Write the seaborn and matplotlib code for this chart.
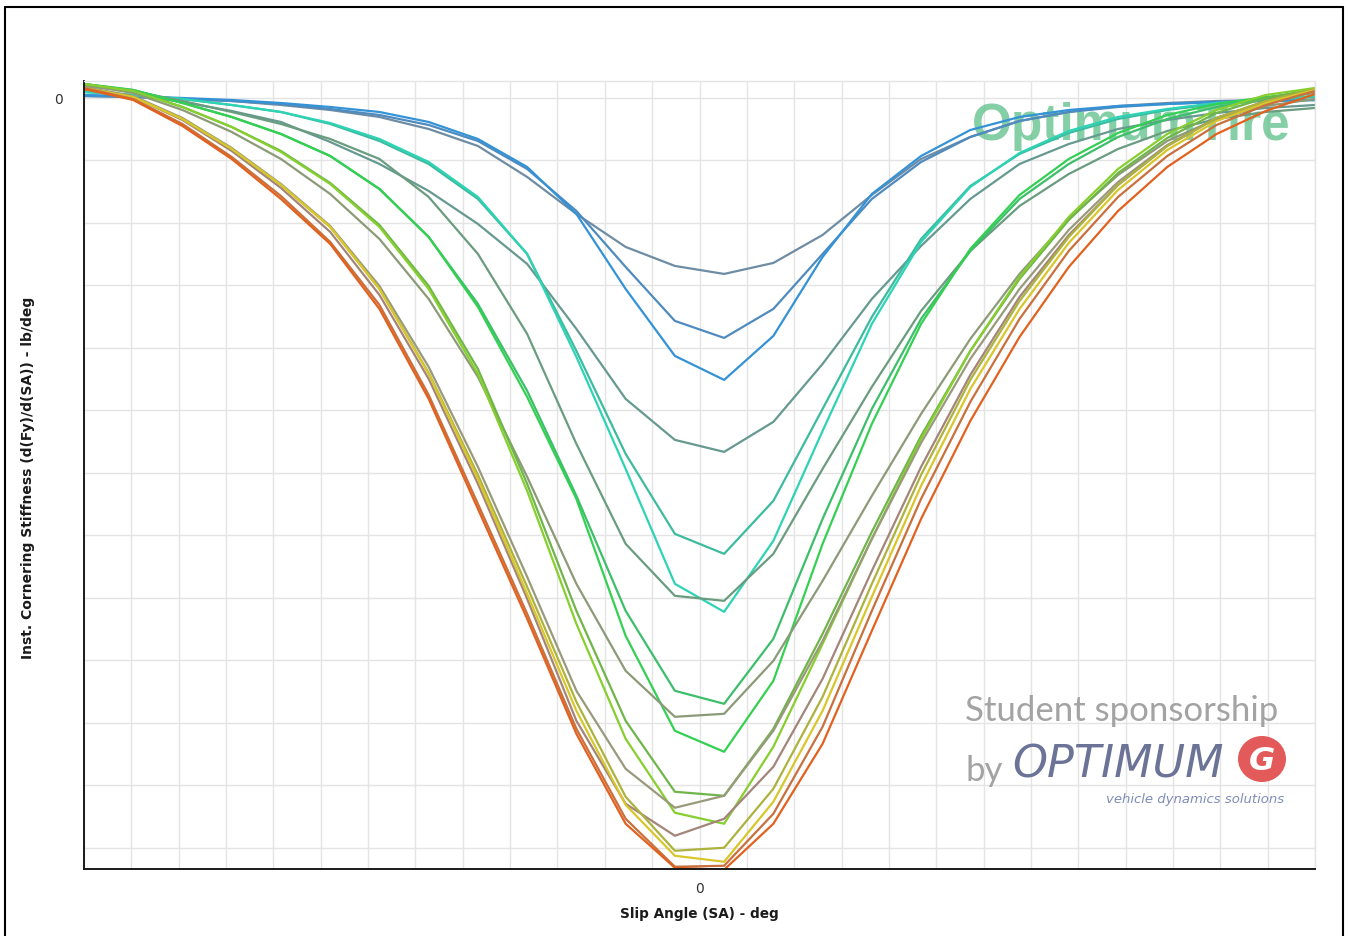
import matplotlib
matplotlib.use("Agg")
import matplotlib.pyplot as plt
from matplotlib.lines import Line2D
from matplotlib.patches import Ellipse
from matplotlib.ticker import MultipleLocator, FuncFormatter
import pandas as pd
import seaborn as sns

# Slip angle sweep (deg)
slip_angle_deg = [-13.0, -11.96, -10.92, -9.88, -8.84, -7.8, -6.76, -5.72, -4.68, -3.64, -2.6, -1.56, -0.52,
                  0.52, 1.56, 2.6, 3.64, 4.68, 5.72, 6.76, 7.8, 8.84, 9.88, 10.92, 11.96, 13.0]

# Instantaneous cornering stiffness (lb/deg), one list per tyre run
cs_01 = [1.6, 0.8, -0.8, -2.4, -5.6, -9.6, -15.2, -24.8, -38.4, -63.2, -92.8, -119.2, -134.4,
         -140.8, -132.0, -109.6, -77.6, -48.8, -31.2, -18.4, -11.2, -6.4, -4.0, -2.4, -1.6, -1.6]
cs_02 = [1.6, 0.8, -0.8, -2.4, -4.8, -8.8, -13.6, -21.6, -34.4, -56.8, -90.4, -135.2, -178.4,
         -192.0, -168.8, -124.8, -80.8, -51.2, -31.2, -18.4, -11.2, -7.2, -4.8, -3.2, -2.4, -1.6]
cs_03 = [2.4, 1.6, 0.0, -1.6, -4.0, -7.2, -11.2, -19.2, -32.8, -55.2, -92.8, -152.8, -206.4,
         -225.6, -190.4, -127.2, -76.8, -46.4, -25.6, -15.2, -9.6, -6.4, -4.8, -3.2, -2.4, -1.6]
cs_04 = [5.6, 2.4, -3.2, -10.4, -19.2, -35.2, -52.8, -74.4, -100.8, -132.8, -184.8, -240.8, -273.6,
         -283.2, -259.2, -212.8, -160.8, -118.4, -80.8, -52.8, -36.8, -24.8, -17.6, -12.0, -8.0, -5.6]
cs_05 = [4.8, 2.4, -0.8, -5.6, -11.2, -20.8, -34.4, -52.8, -80.8, -124.8, -202.4, -284.8, -348.8,
         -364.8, -322.4, -248.8, -175.2, -112.8, -70.4, -44.8, -28.0, -16.8, -9.6, -4.8, -1.6, 0.8]
cs_06 = [4.8, 2.4, -0.8, -5.6, -11.2, -20.0, -32.8, -51.2, -79.2, -124.8, -207.2, -296.8, -388.8,
         -411.2, -354.4, -266.4, -180.8, -115.2, -71.2, -44.0, -26.4, -15.2, -8.8, -4.0, -0.8, 1.6]
cs_07 = [9.6, 5.6, -2.4, -11.2, -20.8, -32.8, -48.8, -79.2, -124.8, -188.8, -276.8, -356.8, -398.4,
         -402.4, -364.8, -296.8, -231.2, -170.4, -122.4, -86.4, -60.8, -40.8, -26.4, -16.8, -11.2, -8.0]
cs_08 = [11.2, 6.4, -4.0, -15.2, -28.8, -46.4, -72.8, -111.2, -164.8, -234.4, -318.4, -410.4, -474.4,
         -484.8, -432.8, -336.8, -248.8, -176.8, -122.4, -80.8, -52.8, -31.2, -16.8, -7.2, -0.8, 4.0]
cs_09 = [11.2, 6.4, -4.0, -15.2, -28.8, -46.4, -72.8, -111.2, -167.2, -239.2, -320.8, -430.4, -506.4,
         -523.2, -466.4, -356.8, -260.8, -180.8, -120.8, -77.6, -48.8, -28.0, -13.6, -4.8, 0.8, 4.8]
cs_10 = [10.4, 4.0, -9.6, -27.2, -48.8, -76.8, -112.8, -160.8, -223.2, -303.2, -388.8, -458.4, -495.2,
         -492.8, -450.4, -386.4, -318.4, -252.8, -192.8, -140.8, -96.8, -61.6, -34.4, -16.8, -6.4, -0.8]
cs_11 = [11.2, 5.6, -7.2, -23.2, -42.4, -68.0, -101.6, -150.4, -216.8, -308.8, -410.4, -498.4, -555.2,
         -558.4, -504.8, -428.8, -347.2, -270.4, -202.4, -144.8, -97.6, -60.0, -32.0, -12.0, 0.0, 7.2]
cs_12 = [11.2, 5.6, -7.2, -23.2, -43.2, -68.8, -103.2, -152.8, -220.8, -314.4, -420.8, -512.8, -572.0,
         -580.8, -519.2, -436.8, -352.8, -272.8, -202.4, -143.2, -95.2, -56.8, -28.8, -9.6, 2.4, 8.0]
cs_13 = [8.8, 1.6, -16.0, -40.0, -68.8, -102.4, -150.4, -215.2, -295.2, -383.2, -474.4, -536.8, -568.0,
         -558.4, -506.4, -434.4, -352.8, -276.0, -208.8, -152.8, -105.6, -67.2, -37.6, -16.0, -3.2, 4.8]
cs_14 = [8.0, 0.8, -17.6, -42.4, -72.0, -107.2, -157.6, -224.8, -308.8, -400.8, -498.4, -564.8, -590.4,
         -576.8, -535.2, -464.8, -378.4, -295.2, -221.6, -159.2, -109.6, -69.6, -38.4, -16.0, -2.4, 6.4]
cs_15 = [8.0, 0.8, -16.8, -40.8, -69.6, -103.2, -152.8, -220.0, -301.6, -391.2, -483.2, -559.2, -602.4,
         -600.0, -552.8, -479.2, -388.8, -301.6, -225.6, -162.4, -111.2, -69.6, -38.4, -16.0, -2.4, 7.2]
cs_16 = [8.0, 0.8, -16.8, -40.8, -69.6, -103.2, -152.8, -220.8, -304.8, -396.8, -490.4, -565.6, -606.4,
         -611.2, -563.2, -490.4, -399.2, -310.4, -232.8, -168.8, -116.0, -73.6, -41.6, -18.4, -4.0, 6.4]
cs_17 = [8.0, -0.8, -20.8, -47.2, -78.4, -115.2, -165.6, -237.6, -324.8, -412.8, -504.8, -576.8, -615.2,
         -614.4, -572.8, -503.2, -410.4, -320.8, -243.2, -176.8, -122.4, -79.2, -46.4, -21.6, -5.6, 5.6]
cs_18 = [7.2, -1.6, -22.4, -48.8, -80.8, -116.8, -168.8, -240.8, -328.8, -416.8, -508.8, -580.8, -616.0,
         -617.6, -580.8, -516.8, -426.4, -336.8, -258.4, -191.2, -135.2, -90.4, -55.2, -28.8, -10.4, 3.2]

run_names = ["Run 01", "Run 02", "Run 03", "Run 04", "Run 05", "Run 06", "Run 07", "Run 08", "Run 09",
             "Run 10", "Run 11", "Run 12", "Run 13", "Run 14", "Run 15", "Run 16", "Run 17", "Run 18"]
run_colors = ["#6E8CA3", "#4F8BBE", "#3492D6", "#66998F", "#3DBB9F", "#2ED3B5",
              "#6A9C7F", "#3DBE6A", "#33D052", "#8C9A78", "#6FB54A", "#86CF2E",
              "#999A7C", "#A3857A", "#ADB23E", "#D9C62A", "#C8703E", "#E2611F"]
run_values = [cs_01, cs_02, cs_03, cs_04, cs_05, cs_06, cs_07, cs_08, cs_09,
              cs_10, cs_11, cs_12, cs_13, cs_14, cs_15, cs_16, cs_17, cs_18]

rows = []
for name, vals in zip(run_names, run_values):
    for sa, cs in zip(slip_angle_deg, vals):
        rows.append({"run": name, "SA": sa, "Cs": cs})
df = pd.DataFrame(rows)

sns.set_style("white")
plt.rcParams["font.family"] = ["DejaVu Sans"]

W, H = 1349, 937
fig = plt.figure(figsize=(W / 100, H / 100), dpi=100)
fig.patch.set_facecolor("white")
ax = fig.add_axes([84 / W, 1 - 870 / H, (1315 - 84) / W, (870 - 82) / H])

sns.lineplot(data=df, x="SA", y="Cs", hue="run", hue_order=run_names,
             palette=dict(zip(run_names, run_colors)), estimator=None, sort=False,
             legend=False, linewidth=1.6, ax=ax, zorder=2)

ax.set_xlim(-13, 13)
ax.set_ylim(-617, 13.6)
ax.xaxis.set_major_locator(MultipleLocator(1))
ax.yaxis.set_major_locator(MultipleLocator(50))
zero_only = FuncFormatter(lambda v, p: "0" if abs(v) < 1e-9 else "")
ax.xaxis.set_major_formatter(zero_only)
ax.yaxis.set_major_formatter(zero_only)

ax.grid(True, color="#E4E4E4", linewidth=1.0)
ax.set_axisbelow(True)
for side in ("top", "right"):
    ax.spines[side].set_color("#E4E4E4")
    ax.spines[side].set_linewidth(1.0)
for side in ("left", "bottom"):
    ax.spines[side].set_color("#1a1a1a")
    ax.spines[side].set_linewidth(1.4)

ax.tick_params(axis="x", direction="inout", length=10, width=1.2, color="#1a1a1a",
               labelsize=10, labelcolor="#333333", pad=4)
ax.tick_params(axis="y", direction="inout", length=9, width=1.2, color="#1a1a1a",
               labelsize=10, labelcolor="#333333", pad=11)

ax.set_xlabel("Slip Angle (SA) - deg", fontsize=9.8, fontweight="bold", color="#1a1a1a")
ax.xaxis.label.set_va("center")
ax.xaxis.set_label_coords(0.5, (870 - 914) / 788)
ax.set_ylabel("Inst. Cornering Stiffness (d(Fy)/d(SA)) - lb/deg", fontsize=10, fontweight="bold",
              color="#1a1a1a")
ax.yaxis.label.set_va("center")
ax.yaxis.set_label_coords((28 - 84) / 1231, (870 - 478) / 788)

ft = fig.transFigure
# Product watermark
ax.text(972 / W, 1 - 140 / H, "OptimumTire", transform=ft, fontsize=37, fontweight="bold",
        family="Liberation Sans", color="#5CBF88", alpha=0.75, ha="left", va="baseline",
        zorder=1, clip_on=False)
# Sponsorship badge
ax.text(965 / W, 1 - 721 / H, "Student sponsorship", transform=ft, fontsize=25, family="Lato",
        color="#A3A3A3", ha="left", va="baseline", zorder=1, clip_on=False)
ax.text(966 / W, 1 - 781 / H, "by", transform=ft, fontsize=25, family="Lato",
        color="#A3A3A3", ha="left", va="baseline", zorder=1, clip_on=False)
ax.text(1012 / W, 1 - 778 / H, "OPTIMUM", transform=ft, fontsize=32, style="italic",
        family="DejaVu Sans", color="#6B7396", ha="left", va="baseline", zorder=1, clip_on=False)
logo = Ellipse((1262 / W, 1 - 760 / H), 48 / W, 46 / H, transform=ft, facecolor="#E35A5A",
               edgecolor="none", zorder=1, clip_on=False)
ax.add_patch(logo)
ax.text(1262 / W, 1 - 761 / H, "G", transform=ft, fontsize=23, fontweight="bold", style="italic",
        color="white", ha="center", va="center", zorder=1, clip_on=False)
ax.text(1284 / W, 1 - 803 / H, "vehicle dynamics solutions", transform=ft, fontsize=9.5,
        style="italic", color="#7F8DB8", ha="right", va="baseline", zorder=1, clip_on=False)

# Outer frame
frame_kw = dict(color="black", linewidth=1.5, transform=ft)
fig.add_artist(Line2D([5 / W, 5 / W], [0, 1 - 8 / H], **frame_kw))
fig.add_artist(Line2D([5 / W, 1343 / W], [1 - 8 / H, 1 - 8 / H], **frame_kw))
fig.add_artist(Line2D([1343 / W, 1343 / W], [0, 1 - 8 / H], **frame_kw))

fig.savefig("out.png", dpi=100, facecolor="white")
